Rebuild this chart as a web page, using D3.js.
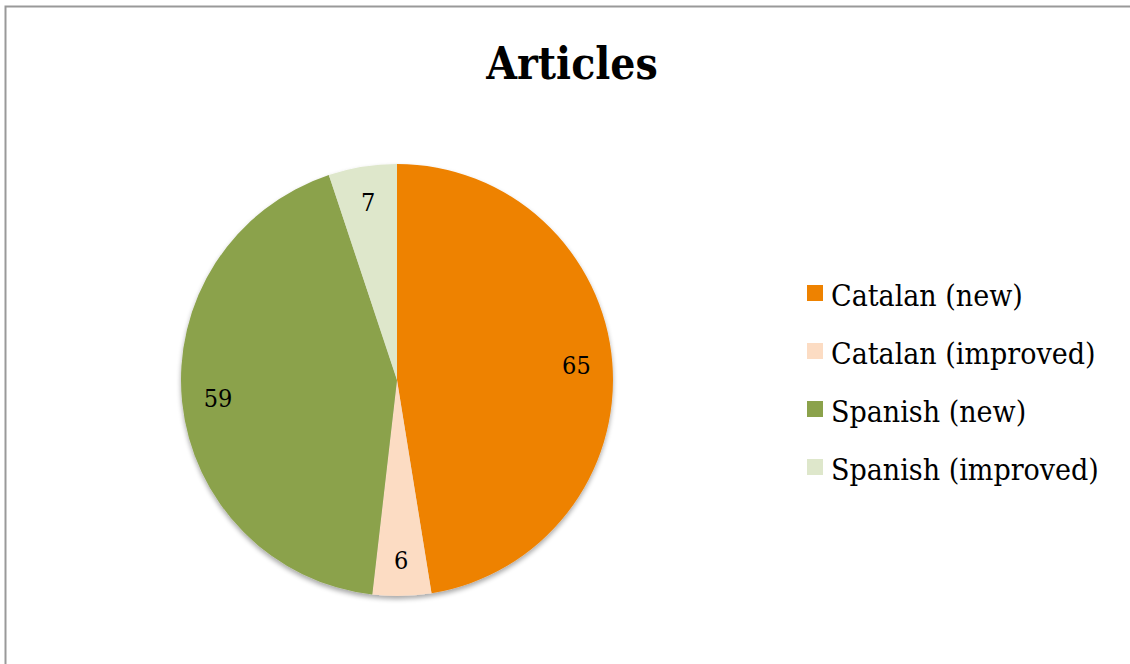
<!DOCTYPE html>
<html><head><meta charset="utf-8">
<script src="https://cdn.jsdelivr.net/npm/d3@7"></script>
<style>html,body{margin:0;padding:0;background:#fff;} svg{display:block;}</style>
</head><body>
<svg id="c" width="1130" height="664"></svg>
<script>
const categories = ["Catalan (new)", "Catalan (improved)", "Spanish (new)", "Spanish (improved)"];
const values = [65, 6, 59, 7];
const colors = ["#EE8200", "#FCDCC3", "#8BA24B", "#DEE7CB"];
const title = "Articles";

const svg = d3.select("#c");
const font = "'DejaVu Serif Condensed','DejaVu Serif',serif";

svg.append("rect").attr("x", 5.5).attr("y", 6.5).attr("width", 1140).attr("height", 700)
  .attr("fill", "#fff").attr("stroke", "#999").attr("stroke-width", 2);

svg.append("text").attr("x", 572).attr("y", 79).attr("text-anchor", "middle")
  .attr("font-family", font).attr("font-weight", "bold").attr("font-size", 44)
  .attr("fill", "#000").text(title);

const defs = svg.append("defs");
const f = defs.append("filter").attr("id", "sh").attr("x", "-20%").attr("y", "-20%").attr("width", "140%").attr("height", "140%");
f.append("feGaussianBlur").attr("in", "SourceAlpha").attr("stdDeviation", 2.5);
f.append("feOffset").attr("dx", 0).attr("dy", 3).attr("result", "o");
f.append("feComponentTransfer").append("feFuncA").attr("type", "linear").attr("slope", 0.35);
const m = f.append("feMerge"); m.append("feMergeNode"); m.append("feMergeNode").attr("in", "SourceGraphic");

const cx = 397, cy = 380, R = 216;
const pie = d3.pie().sort(null).value(d => d)(values);
const arc = d3.arc().innerRadius(0).outerRadius(R);
const labelArc = d3.arc().innerRadius(180).outerRadius(180);
const g = svg.append("g").attr("transform", `translate(${cx},${cy})`);
const slices = g.append("g").attr("filter", "url(#sh)");
slices.selectAll("path").data(pie).enter().append("path")
  .attr("d", arc).attr("fill", (d, i) => colors[i]);
g.selectAll("text").data(pie).enter().append("text")
  .attr("transform", d => `translate(${labelArc.centroid(d)})`)
  .attr("text-anchor", "middle").attr("dy", "0.35em")
  .attr("font-family", font).attr("font-size", 25).attr("fill", "#000")
  .text(d => d.data);

const leg = svg.append("g").attr("transform", "translate(807,285)");
const items = leg.selectAll("g").data(categories).enter().append("g")
  .attr("transform", (d, i) => `translate(0,${i * 58})`);
items.append("rect").attr("width", 16).attr("height", 16).attr("fill", (d, i) => colors[i]);
items.append("text").attr("x", 24).attr("y", 21)
  .attr("font-family", font).attr("font-size", 30).attr("fill", "#000").text(d => d);
</script>
</body></html>
